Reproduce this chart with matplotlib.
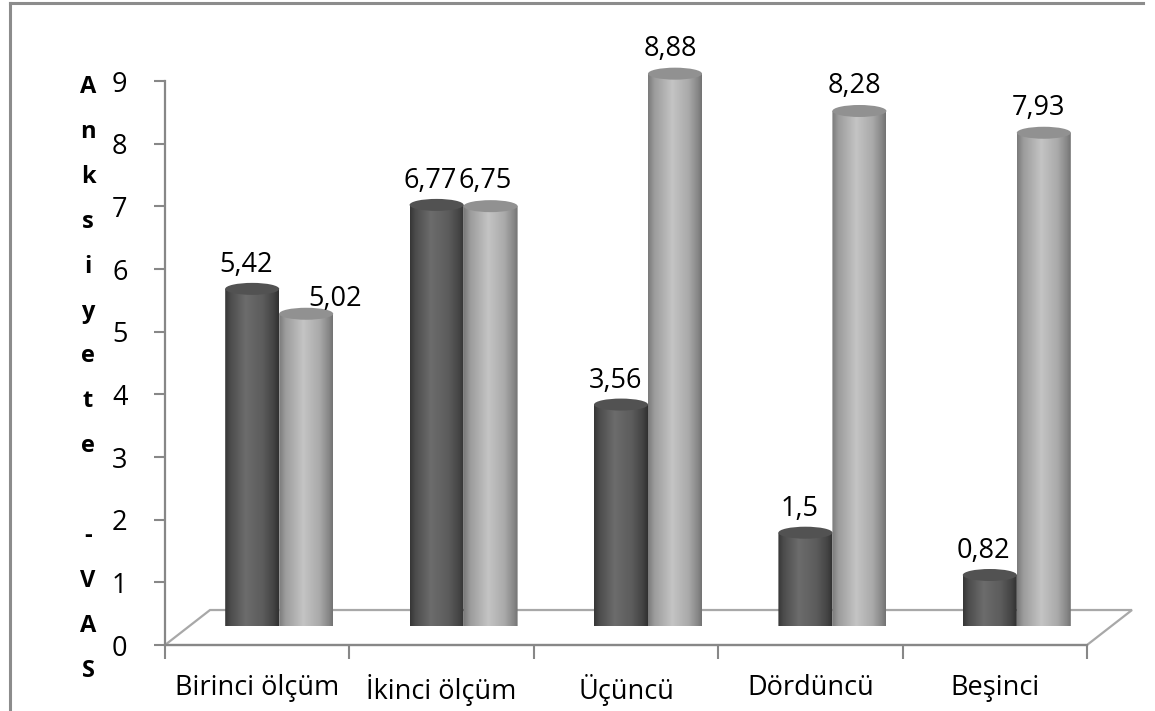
import numpy as np
import matplotlib
matplotlib.use('Agg')
import matplotlib.pyplot as plt
from matplotlib.patches import Ellipse, Polygon
from matplotlib.lines import Line2D
from matplotlib.colors import to_rgb

plt.rcParams['font.family'] = ['Open Sans', 'DejaVu Sans']

# Anksiyete (VAS) per measurement, two groups
categories = ['Birinci ölçüm', 'İkinci ölçüm', 'Üçüncü', 'Dördüncü', 'Beşinci']
dark_values = [5.42, 6.77, 3.56, 1.5, 0.82]
light_values = [5.02, 6.75, 8.88, 8.28, 7.93]
yticks = [0, 1, 2, 3, 4, 5, 6, 7, 8, 9]
ylabel_text = 'Anksiyete -VAS'

W, H = 1155, 711
fig = plt.figure(figsize=(W / 100, H / 100), dpi=100)

axis_grey = '#878787'
floor_grey = '#a8a8a8'
fs = 19.5

# front axes (ticks, labels, floor)
ax = fig.add_axes([165 / W, (H - 645) / H, 922 / W, 564 / H])
ax.set_xlim(-0.5, 4.5)
ax.set_ylim(0, 9)
ax.patch.set_alpha(0)
for s in ['top', 'right']:
    ax.spines[s].set_visible(False)
for s in ['left', 'bottom']:
    ax.spines[s].set_color(axis_grey)
    ax.spines[s].set_linewidth(1.6)

ax.set_yticks(yticks)
ax.tick_params(axis='y', direction='out', length=8, width=1.5, color=axis_grey,
               labelsize=fs, pad=19)
ax.set_xticks(range(len(categories)))
ax.set_xticklabels(categories)
ax.set_xticks(np.arange(-0.5, len(categories)), minor=True)
ax.tick_params(axis='x', which='major', length=0, labelsize=fs, pad=21)
ax.tick_params(axis='x', which='minor', direction='out', length=10, width=1.5,
               color=axis_grey)

# floor of the 3d box
dx, dy = 45 / 184.4, 35 / 62.7
floor = Polygon([(-0.5, 0), (4.5, 0), (4.5 + dx, dy), (-0.5 + dx, dy)], closed=True,
                fc='none', ec=floor_grey, lw=1.6, clip_on=False, zorder=1)
ax.add_patch(floor)

# y label, one letter per line
step = 44.9
letters = list(ylabel_text.split(' ')[0]) + [''] + list(ylabel_text.split(' ')[1])
for i, ch in enumerate(letters):
    fig.text(88 / W, 1 - (93 + i * step) / H, ch, ha='center', va='baseline',
             fontsize=17, fontweight='bold')

# cylinders sit a little deeper than the axis plane
bx = fig.add_axes([187 / W, (H - 626) / H, 922 / W, 9 * 62.2 / H])
bx.patch.set_alpha(0)
bx.axis('off')

w = 27 / 184.4     # cylinder radius in category units
eh = 6 / 62.2      # half height of the end ellipses


def shade(stops, n=200):
    pos = np.array([p for p, _ in stops])
    cols = np.array([to_rgb(c) for _, c in stops])
    xs = np.linspace(0, 1, n)
    row = np.stack([np.interp(xs, pos, cols[:, k]) for k in range(3)], axis=1)
    return row[np.newaxis, :, :]


dark_body = shade([(0, '#363636'), (0.1, '#4c4c4c'), (0.38, '#6c6c6c'),
                   (0.7, '#5c5c5c'), (0.9, '#444444'), (1, '#303030')])
light_body = shade([(0, '#7a7a7a'), (0.12, '#9c9c9c'), (0.45, '#c4c4c4'),
                    (0.75, '#aaaaaa'), (0.92, '#888888'), (1, '#737373')])


def cylinder(xc, top, body, top_color):
    x0, x1 = xc - w, xc + w
    xs = np.linspace(x0, x1, 60)
    bottom = -eh * np.sqrt(np.clip(1 - ((xs - xc) / w) ** 2, 0, 1))
    verts = [(x0, top)] + list(zip(xs, bottom)) + [(x1, top)]
    clip = Polygon(verts, closed=True, fc='none', ec='none', transform=bx.transData)
    bx.add_patch(clip)
    im = bx.imshow(body, extent=[x0, x1, -eh, top], aspect='auto',
                   interpolation='bilinear', zorder=2)
    im.set_clip_path(clip)
    bx.add_patch(Ellipse((xc, top), 2 * w, 2 * eh, fc=top_color, ec='none', zorder=3))


def fmt(v):
    return f'{v:g}'.replace('.', ',')


for i in range(len(categories)):
    cylinder(i - w, dark_values[i], dark_body, '#525252')
    cylinder(i + w, light_values[i], light_body, '#919191')

for i in range(len(categories)):
    bx.annotate(fmt(dark_values[i]), (i - w, dark_values[i]), xytext=(-6, 24),
                textcoords='offset pixels', ha='center', va='center', fontsize=fs)
    # first light label is pushed aside to clear the dark one
    off = (29, 15) if i == 0 else (-5, 25)
    bx.annotate(fmt(light_values[i]), (i + w, light_values[i]), xytext=off,
                textcoords='offset pixels', ha='center', va='center', fontsize=fs)

bx.set_xlim(-0.5, 4.5)
bx.set_ylim(0, 9)

# chart frame
frame = '#8c8c8c'
fig.add_artist(Line2D([10 / W, 1143 / W], [1 - 3 / H, 1 - 3 / H],
                      transform=fig.transFigure, color=frame, lw=2.2))
fig.add_artist(Line2D([10 / W, 10 / W], [0, 1 - 3 / H],
                      transform=fig.transFigure, color=frame, lw=2.2))

fig.savefig('out.png', dpi=100)
